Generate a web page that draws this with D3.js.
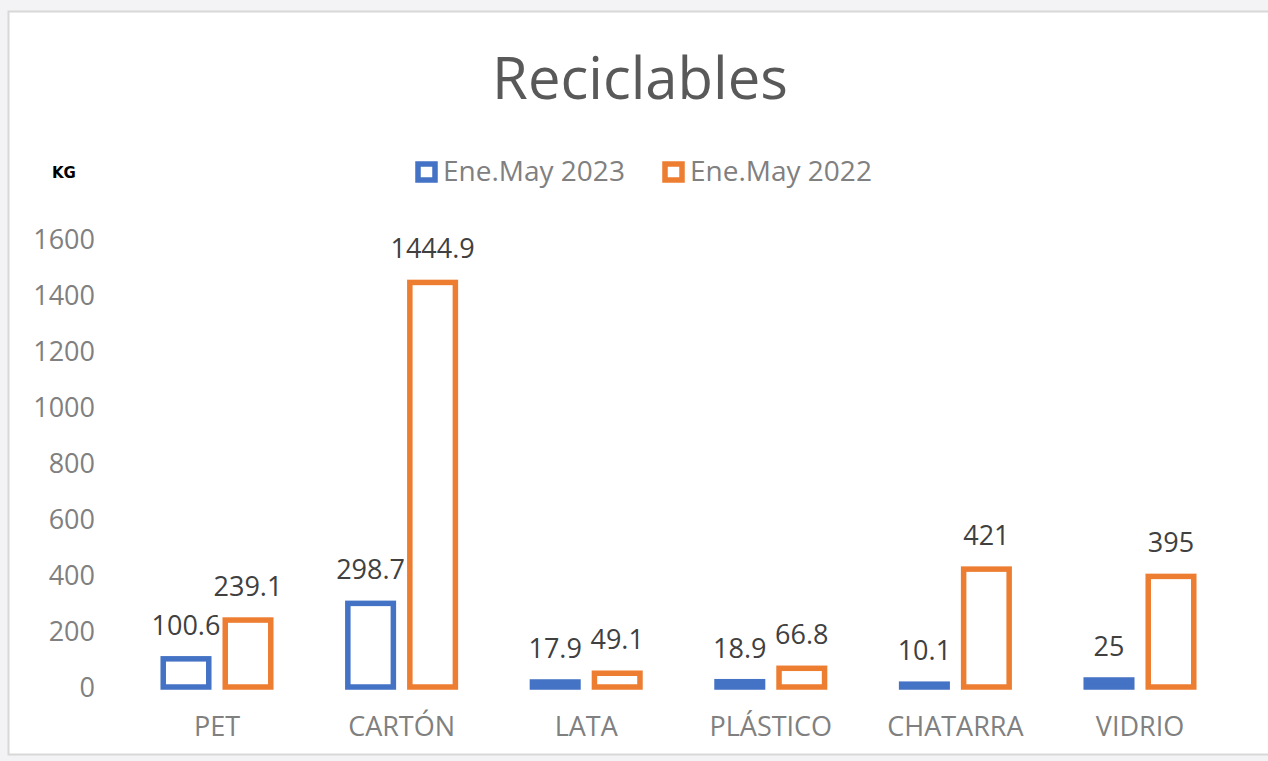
<!DOCTYPE html>
<html lang="es">
<head>
<meta charset="utf-8">
<title>Reciclables</title>
<script src="https://cdn.jsdelivr.net/npm/d3@7"></script>
<style>
  body { margin: 0; background: #f3f2f5; }
  svg { display: block; }
  .tick text { font-family: "Open Sans", sans-serif; }
</style>
</head>
<body>
<svg id="chart" width="1268" height="761"></svg>
<script>
// data
var categories = ["PET", "CARTÓN", "LATA", "PLÁSTICO", "CHATARRA", "VIDRIO"];
var seriesNames = ["Ene.May 2023", "Ene.May 2022"];
var values2023 = [100.6, 298.7, 17.9, 18.9, 10.1, 25];
var values2022 = [239.1, 1444.9, 49.1, 66.8, 421, 395];
var labels2023 = ["100.6", "298.7", "17.9", "18.9", "10.1", "25"];
var labels2022 = ["239.1", "1444.9", "49.1", "66.8", "421", "395"];
var yTicks = [0, 200, 400, 600, 800, 1000, 1200, 1400, 1600];
var colors = ["#4472c4", "#ed7d31"];

var svg = d3.select("#chart");
var font = "'Open Sans', sans-serif";

// white card
svg.append("rect")
  .attr("x", 8.5).attr("y", 11.5)
  .attr("width", 1270).attr("height", 743)
  .attr("fill", "#ffffff")
  .attr("stroke", "#d8d8d8")
  .attr("stroke-width", 2);

// title
svg.append("text")
  .attr("x", 640).attr("y", 99)
  .attr("text-anchor", "middle")
  .attr("font-family", font)
  .attr("font-size", 58)
  .attr("fill", "#595959")
  .text("Reciclables");

svg.append("text")
  .attr("x", 52).attr("y", 178)
  .attr("font-family", "'DejaVu Sans', sans-serif")
  .attr("font-weight", "bold")
  .attr("font-size", 15)
  .attr("fill", "#000")
  .text("KG");

// legend
var legendX = [418, 665];
seriesNames.forEach(function(name, i){
  svg.append("rect")
    .attr("x", legendX[i]).attr("y", 164)
    .attr("width", 17).attr("height", 16)
    .attr("fill", "#fff")
    .attr("stroke", colors[i])
    .attr("stroke-width", 5.5);
  svg.append("text")
    .attr("x", legendX[i] + 25).attr("y", 181)
    .attr("font-family", font)
    .attr("font-size", 28)
    .attr("fill", "#808080")
    .text(name);
});

// scales
var x0 = d3.scaleBand().domain(categories).range([124.7, 1232.3]).padding(0);
var x1 = d3.scaleBand().domain(seriesNames).range([0, x0.bandwidth()])
  .paddingInner(0.177).paddingOuter(0.577);
var y = d3.scaleLinear().domain([0, 1600]).range([687, 239]);

// y axis
var yAxis = svg.append("g")
  .attr("transform", "translate(95,0)")
  .call(d3.axisLeft(y).tickValues(yTicks).tickFormat(d3.format("d")).tickSize(0).tickPadding(0));
yAxis.select(".domain").remove();
yAxis.selectAll("text")
  .attr("font-size", 27)
  .attr("fill", "#808080")
  .attr("dy", "0.36em");

// x axis labels
var xAxis = svg.append("g")
  .attr("transform", "translate(0,706)")
  .call(d3.axisBottom(x0).tickSize(0).tickPadding(0));
xAxis.select(".domain").remove();
xAxis.selectAll("text")
  .attr("font-size", 27)
  .attr("fill", "#808080")
  .attr("dy", "1.1em");

// bars
var sw = 5.5;
var rows = categories.map(function(c, i){
  return {cat: c, vals: [values2023[i], values2022[i]], labs: [labels2023[i], labels2022[i]]};
});

var groups = svg.selectAll(".grp")
  .data(rows).enter().append("g")
  .attr("class", "grp")
  .attr("transform", function(d){ return "translate(" + x0(d.cat) + ",0)"; });

groups.selectAll("rect")
  .data(function(d){ return d.vals.map(function(v, k){ return {s: seriesNames[k], v: v, k: k}; }); })
  .enter().append("rect")
  .attr("x", function(d){ return x1(d.s) + sw / 2; })
  .attr("width", x1.bandwidth() - sw)
  .attr("y", function(d){ return y(d.v); })
  .attr("height", function(d){ return y(0) - y(d.v); })
  // very short bars read as solid in the original
  .attr("fill", function(d){ return (y(0) - y(d.v)) < sw * 1.5 ? colors[d.k] : "#fff"; })
  .attr("stroke", function(d){ return colors[d.k]; })
  .attr("stroke-width", sw);

groups.selectAll(".lbl")
  .data(function(d){ return d.vals.map(function(v, k){ return {s: seriesNames[k], v: v, t: d.labs[k]}; }); })
  .enter().append("text")
  .attr("class", "lbl")
  .attr("x", function(d){ return x1(d.s) + x1.bandwidth() / 2; })
  .attr("y", function(d){ return y(d.v) - 24; })
  .attr("text-anchor", "middle")
  .attr("font-family", font)
  .attr("font-size", 27)
  .attr("fill", "#404040")
  .text(function(d){ return d.t; });
</script>
</body>
</html>
